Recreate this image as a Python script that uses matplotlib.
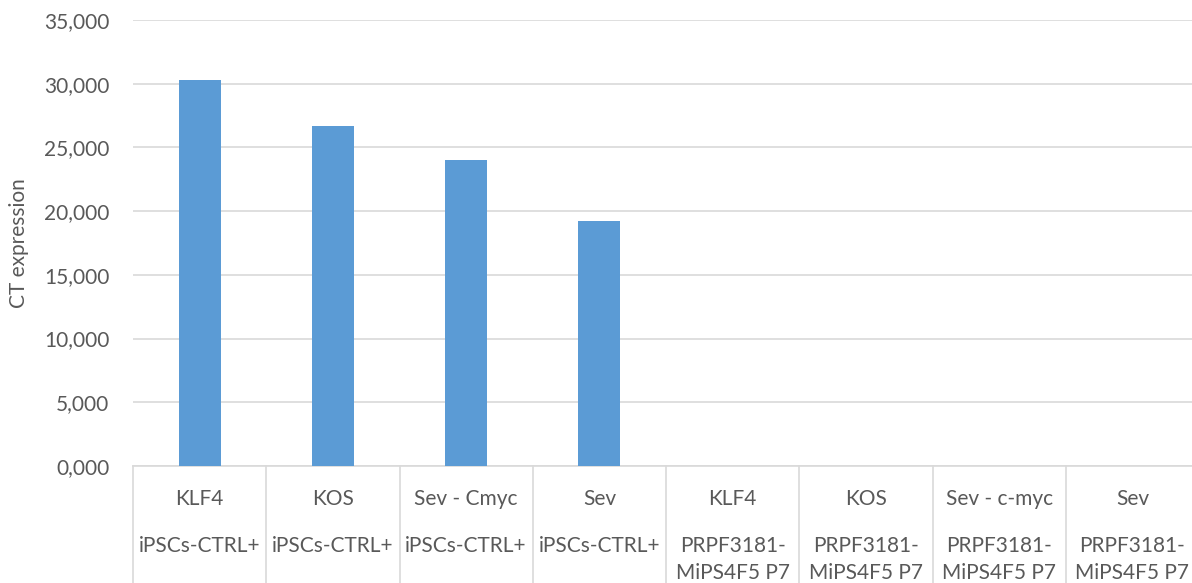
import matplotlib
matplotlib.use("Agg")
import matplotlib.pyplot as plt
import matplotlib.transforms as mtransforms
from matplotlib.ticker import FuncFormatter

# Data
constructs = ["KLF4", "KOS", "Sev - Cmyc", "Sev", "KLF4", "KOS", "Sev - c-myc", "Sev"]
cell_lines = ["iPSCs-CTRL+", "iPSCs-CTRL+", "iPSCs-CTRL+", "iPSCs-CTRL+",
              "PRPF3181-\nMiPS4F5 P7", "PRPF3181-\nMiPS4F5 P7",
              "PRPF3181-\nMiPS4F5 P7", "PRPF3181-\nMiPS4F5 P7"]
ct_values = [30.3, 26.7, 24.0, 19.25, 0, 0, 0, 0]
y_ticks = [0, 5, 10, 15, 20, 25, 30, 35]

BAR_COLOR = "#5B9BD5"
GRID_COLOR = "#D9D9D9"
TEXT_COLOR = "#595959"
FONT = "Lato"
FS = 15

plt.rcParams["font.family"] = [FONT, "DejaVu Sans"]

W, H = 1192, 583
fig = plt.figure(figsize=(W / 100, H / 100), dpi=100)
left_px, right_px, top_px, bottom_px = 133, 1199, 20, 466
ax = fig.add_axes([left_px / W, (H - bottom_px) / H,
                   (right_px - left_px) / W, (bottom_px - top_px) / H])

x = list(range(len(constructs)))
ax.bar(x, ct_values, width=0.315, color=BAR_COLOR, zorder=3)

ax.set_xlim(-0.5, len(constructs) - 0.5)
ax.set_ylim(0, 35)
ax.set_yticks(y_ticks)
ax.yaxis.set_major_formatter(FuncFormatter(lambda v, p: f"{v:.3f}".replace(".", ",")))
ax.grid(axis="y", color=GRID_COLOR, linewidth=1.2, zorder=0)
ax.tick_params(axis="y", length=0, pad=17, labelsize=FS, labelcolor=TEXT_COLOR)
ax.tick_params(axis="x", length=0, labelbottom=False)
for s in ["top", "right", "left"]:
    ax.spines[s].set_visible(False)
ax.spines["bottom"].set_color(GRID_COLOR)
ax.spines["bottom"].set_linewidth(1.2)

# Y axis title
fig.text(19 / W, 1 - 243 / H, "CT expression", rotation=90, ha="center", va="center",
         fontsize=FS, color=TEXT_COLOR)

# Multi-level category axis: separators and two label rows
trans = mtransforms.blended_transform_factory(ax.transData, ax.transAxes)
axis_h = bottom_px - top_px
def ax_y(px):
    return (bottom_px - px) / axis_h

for b in range(len(constructs) + 1):
    ax.plot([b - 0.5, b - 0.5], [0, ax_y(H + 5)], transform=trans,
            color=GRID_COLOR, linewidth=1.2, clip_on=False)

for i, (c, g) in enumerate(zip(constructs, cell_lines)):
    ax.text(i, ax_y(499), c, transform=trans, ha="center", va="center",
            fontsize=FS, color=TEXT_COLOR)
    for k, line in enumerate(g.split("\n")):
        ax.text(i, ax_y(546 + 27 * k), line, transform=trans, ha="center",
                va="center", fontsize=FS, color=TEXT_COLOR)

fig.savefig("out.png", dpi=100)
